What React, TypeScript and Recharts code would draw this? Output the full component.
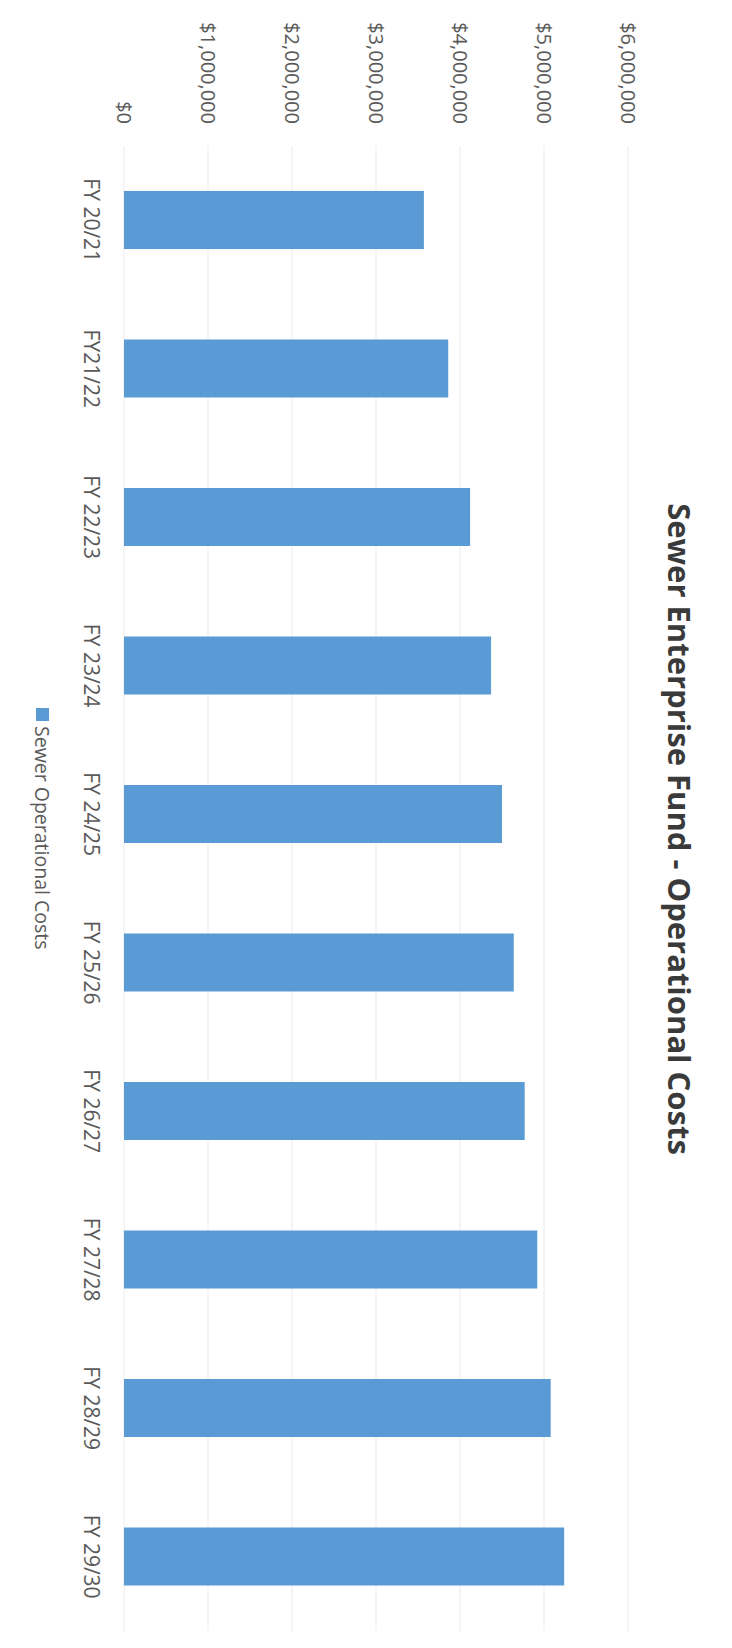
import React from "react";
import { BarChart, Bar, XAxis, YAxis, CartesianGrid, Legend, Customized } from "recharts";

const categories = ["FY 20/21", "FY21/22", "FY 22/23", "FY 23/24", "FY 24/25", "FY 25/26", "FY 26/27", "FY 27/28", "FY 28/29", "FY 29/30"];
const sewerOperationalCosts = [3570000, 3860000, 4120000, 4370000, 4500000, 4640000, 4770000, 4920000, 5080000, 5240000];
const valueTicks = [0, 1000000, 2000000, 3000000, 4000000, 5000000, 6000000];
const title = "Sewer Enterprise Fund - Operational Costs";
const seriesName = "Sewer Operational Costs";

const data = categories.map((c, i) => ({ name: c, value: sewerOperationalCosts[i] }));

const BAR = "#5B9BD5";
const TXT = "#595959";
const FONT = "'Open Sans', sans-serif";

const fmt = (v: number) => "$" + v.toLocaleString("en-US");

const LegendContent = () => (
  <div style={{ display: "flex", alignItems: "center", fontFamily: FONT, fontSize: 19.5, color: TXT, whiteSpace: "nowrap" }}>
    <span style={{ display: "inline-block", width: 13, height: 13, background: BAR, marginRight: 5 }} />
    <span>{seriesName}</span>
  </div>
);

const Title = () => (
  <text x={829} y={64} textAnchor="middle" fontFamily={FONT} fontWeight={700} fontSize={31} fill="#3a3a3a">
    {title}
  </text>
);

export default function App() {
  return (
    <div style={{ position: "absolute", left: 0, top: 0, width: 732, height: 1648, overflow: "hidden", background: "#fff" }}>
      <div
        style={{
          position: "absolute",
          left: 0,
          top: 0,
          width: 1648,
          height: 732,
          transform: "translate(732px, 0px) rotate(90deg)",
          transformOrigin: "0 0",
        }}
      >
        <BarChart width={1648} height={732} data={data} margin={{ top: 104, right: 17, bottom: 84, left: 0 }}>
          <CartesianGrid vertical={false} stroke="#ebebeb" />
          <XAxis
            dataKey="name"
            height={40}
            axisLine={false}
            tickLine={false}
            tickSize={0}
            tickMargin={25}
            tick={{ fill: TXT, fontSize: 21, fontFamily: FONT }}
            interval={0}
          />
          <YAxis
            width={146}
            domain={[0, 6000000]}
            ticks={valueTicks}
            tickFormatter={fmt}
            axisLine={false}
            tickLine={false}
            tickSize={0}
            tickMargin={22}
            tick={{ fill: TXT, fontSize: 20, fontFamily: FONT }}
          />
          <Bar dataKey="value" name={seriesName} fill={BAR} barSize={58} isAnimationActive={false} />
          <Legend
            layout="horizontal"
            verticalAlign="middle"
            align="center"
            content={<LegendContent />}
            wrapperStyle={{ left: 708, top: 676, width: "auto" }}
          />
          <Customized component={Title} />
        </BarChart>
      </div>
    </div>
  );
}
